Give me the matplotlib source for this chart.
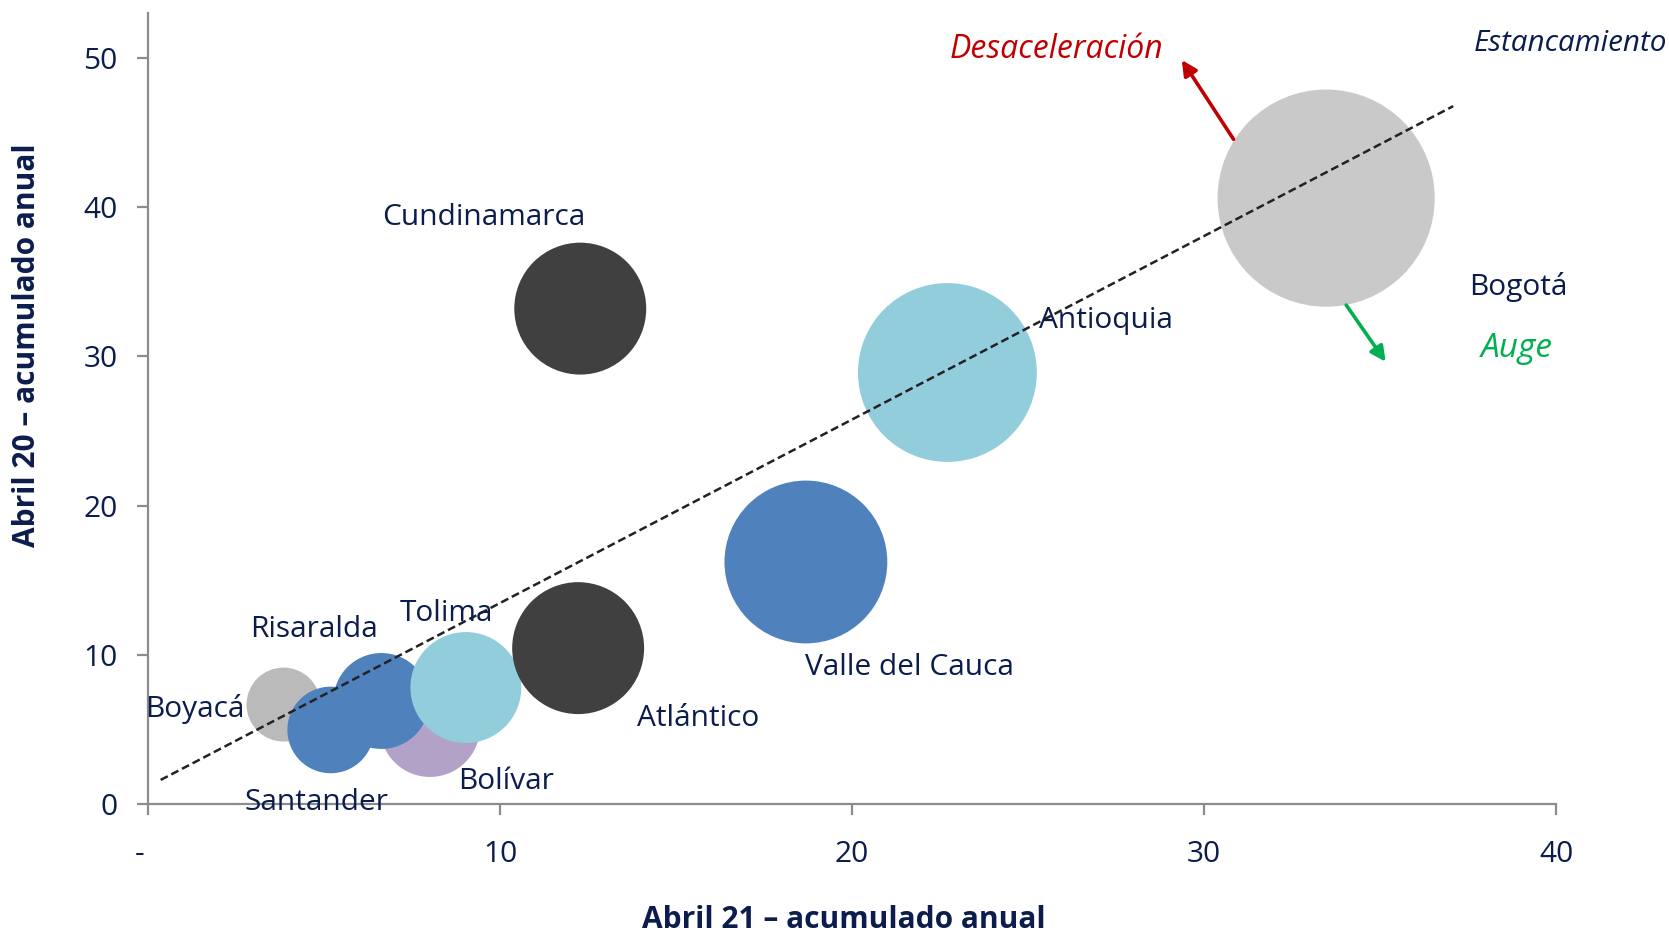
import matplotlib
matplotlib.use("Agg")
import matplotlib.pyplot as plt
import matplotlib.transforms as mtransforms
import numpy as np

# ---------------- data ----------------
regiones = ["Boyacá", "Santander", "Bolívar", "Risaralda", "Tolima",
            "Atlántico", "Valle del Cauca", "Cundinamarca", "Antioquia", "Bogotá"]
abril21 = [3.85, 5.19, 8.01, 6.63, 9.03, 12.22, 18.69, 12.28, 22.71, 33.47]
abril20 = [6.68, 4.98, 5.18, 6.92, 7.82, 10.46, 16.23, 33.2, 28.92, 40.6]
peso = [11.6, 15.9, 21.2, 19.5, 26.1, 36.9, 56.2, 36.9, 67.8, 100.0]
colores = ["#BABABA", "#4F81BD", "#B3A2C7", "#4F81BD", "#92CDDC",
           "#404040", "#4F81BD", "#404040", "#92CDDC", "#C9C9C9"]

# label positions (data coords, baseline)
label_x = [1.33, 4.8, 10.16, 4.73, 8.49, 15.62, 21.63, 9.54, 27.2, 38.92]
label_y = [5.87, -0.38, 1.04, 11.23, 12.3, 5.27, 8.66, 38.8, 31.88, 34.1]

trend_x = [0.36, 37.08]
trend_slope = 1.229
trend_intercept = 1.19

x_ticks = [0, 10, 20, 30, 40]
x_ticklabels = ["-", "10", "20", "30", "40"]
y_ticks = [0, 10, 20, 30, 40, 50]

NAVY = "#0C1C4C"
FONT = "Open Sans"
FS = 21.5

plt.rcParams["font.family"] = [FONT, "DejaVu Sans"]

W, H, DPI = 1669, 936, 100
fig = plt.figure(figsize=(W / DPI, H / DPI), dpi=DPI)
ax = fig.add_axes([148 / W, 1 - 804.3 / H, (1556 - 148) / W, (804.3 - 13) / H])
ax.set_xlim(0, 40)
ax.set_ylim(0, 53)

# bubbles
max_r_px = 108.6
for i, name in enumerate(regiones):
    r_px = max_r_px * np.sqrt(peso[i] / 100.0)
    s = (2 * r_px * 72.0 / DPI) ** 2
    ax.scatter([abril21[i]], [abril20[i]], s=s, color=colores[i],
               edgecolors="none", zorder=2 + i, clip_on=False)
    ax.text(label_x[i], label_y[i], name, fontsize=FS, color=NAVY,
            ha="center", va="baseline", zorder=30, clip_on=False)

# trend line
tx = np.array(trend_x)
ax.plot(tx, trend_slope * tx + trend_intercept, color="#222222", lw=1.8,
        dashes=(3.2, 1.6), zorder=25, clip_on=False)

# arrows
ax.annotate("", xy=(29.37, 49.85), xytext=(30.84, 44.54),
            arrowprops=dict(arrowstyle="-|>,head_length=0.9,head_width=0.45",
                            color="#C00000", lw=2.6, shrinkA=0, shrinkB=0),
            zorder=26, annotation_clip=False)
ax.annotate("", xy=(35.16, 29.64), xytext=(34.04, 33.44),
            arrowprops=dict(arrowstyle="-|>,head_length=0.9,head_width=0.45",
                            color="#00B050", lw=2.6, shrinkA=0, shrinkB=0),
            zorder=26, annotation_clip=False)

ax.text(25.8, 50.0, "Desaceleración", fontsize=23, color="#C00000",
        style="italic", ha="center", va="baseline", clip_on=False)
ax.text(40.4, 50.47, "Estancamiento", fontsize=21.3, color=NAVY,
        style="italic", ha="center", va="baseline", clip_on=False)
ax.text(38.9, 29.98, "Auge", fontsize=24, color="#00B050",
        style="italic", ha="center", va="baseline", clip_on=False)

# axes styling
for sp in ["top", "right"]:
    ax.spines[sp].set_visible(False)
for sp in ["left", "bottom"]:
    ax.spines[sp].set_color("#8C8C8C")
    ax.spines[sp].set_linewidth(1.6)
ax.set_xticks(x_ticks)
ax.set_xticklabels(x_ticklabels)
ax.set_yticks(y_ticks)
ax.tick_params(axis="both", colors="#8C8C8C", length=8, width=1.6,
               direction="out", labelsize=FS, labelcolor=NAVY)
ax.tick_params(axis="x", pad=18)
ax.tick_params(axis="y", pad=14)
ax.set_facecolor("none")

# shift the "-" label slightly left like the reference
lbl0 = ax.get_xticklabels()[0]
lbl0.set_transform(lbl0.get_transform() +
                   mtransforms.ScaledTranslation(-8.5 / DPI, 0, fig.dpi_scale_trans))

fig.text(844 / W, 1 - 920 / H, "Abril 21 – acumulado anual", fontsize=21.5,
         fontweight="bold", color=NAVY, ha="center", va="center")
fig.text(27 / W, 1 - 345 / H, "Abril 20 – acumulado anual", fontsize=21.5,
         fontweight="bold", color=NAVY, ha="center", va="center", rotation=90)

fig.savefig("out.png", dpi=DPI, facecolor="white")
